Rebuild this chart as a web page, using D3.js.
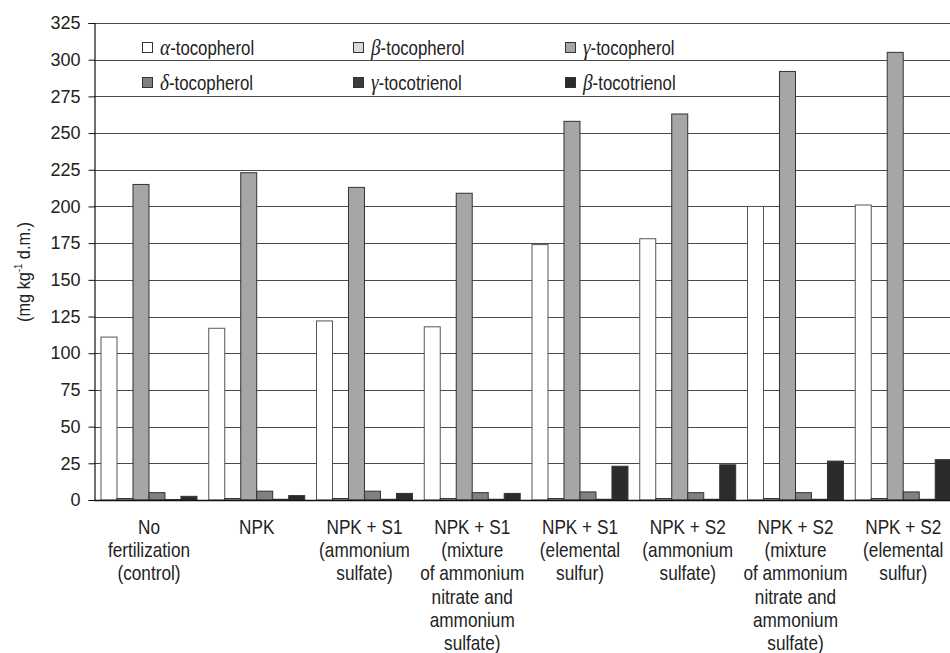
<!DOCTYPE html>
<html>
<head>
<meta charset="utf-8">
<script src="https://cdn.jsdelivr.net/npm/d3@7/dist/d3.min.js"></script>
<style>
  body { margin: 0; background: #fff; }
  svg { display: block; font-family: "Liberation Sans", Arial, sans-serif; }
</style>
</head>
<body>
<div id="chart"></div>
<script>
// treatments (x categories), each label split into lines
const treatments = [
  ["No", "fertilization", "(control)"],
  ["NPK"],
  ["NPK + S1", "(ammonium", "sulfate)"],
  ["NPK + S1", "(mixture", "of ammonium", "nitrate and", "ammonium", "sulfate)"],
  ["NPK + S1", "(elemental", "sulfur)"],
  ["NPK + S2", "(ammonium", "sulfate)"],
  ["NPK + S2", "(mixture", "of ammonium", "nitrate and", "ammonium", "sulfate)"],
  ["NPK + S2", "(elemental", "sulfur)"]
];

const seriesNames = ["α-tocopherol", "β-tocopherol", "γ-tocopherol", "δ-tocopherol", "γ-tocotrienol", "β-tocotrienol"];
const seriesColors = ["#ffffff", "#d9d9d9", "#a6a6a6", "#808080", "#3c3c3c", "#2b2b2b"];

const alphaToc = [111, 117, 122, 118, 174, 178, 200, 201];
const betaToc = [1, 1, 1, 1, 1, 1, 1, 1];
const gammaToc = [215, 223, 213, 209, 258, 263, 292, 305];
const deltaToc = [5, 6, 6, 5, 5.5, 5, 5, 5.5];
const gammaT3 = [0.3, 0.5, 0.5, 0.5, 0.5, 0.5, 0.5, 0.5];
const betaT3 = [2.5, 3, 4.5, 4.5, 23, 24, 26.5, 27.5];

const yTicks = d3.range(0, 326, 25);

const seriesValues = [alphaToc, betaToc, gammaToc, deltaToc, gammaT3, betaT3];

const width = 950, height = 653;
const mLeft = 94, mTop = 23, mBottom = 500, mRight = 956;
// the original text is a narrow face; squeeze Liberation Sans sideways
const squeeze = 0.86;

const svg = d3.select("#chart").append("svg")
  .attr("width", width)
  .attr("height", height);

const x0 = d3.scaleBand()
  .domain(d3.range(treatments.length))
  .range([mLeft, mRight]);

const x1 = d3.scaleBand()
  .domain(d3.range(seriesNames.length))
  .range([7, x0.bandwidth() - 4.8]);

const y = d3.scaleLinear()
  .domain([0, 325])
  .range([mBottom, mTop]);

// gridlines
svg.append("g")
  .selectAll("line")
  .data(yTicks.filter(d => d > 0))
  .join("line")
  .attr("x1", mLeft)
  .attr("x2", width)
  .attr("y1", d => Math.round(y(d)) + 0.5)
  .attr("y2", d => Math.round(y(d)) + 0.5)
  .attr("stroke", "#4a4a4a")
  .attr("stroke-width", 1.1);

// bars
const groups = svg.append("g")
  .selectAll("g")
  .data(treatments)
  .join("g")
  .attr("transform", (d, i) => `translate(${x0(i)},0)`);

groups.selectAll("rect")
  .data((d, i) => seriesValues.map((vals, s) => ({ s, v: vals[i] })))
  .join("rect")
  .attr("x", d => x1(d.s))
  .attr("width", x1.bandwidth())
  .attr("y", d => y(d.v))
  .attr("height", d => y(0) - y(d.v))
  .attr("fill", d => seriesColors[d.s])
  .attr("stroke", d => d.s === 0 ? "#555" : "#333")
  .attr("stroke-width", 1);

// y axis
const yAxis = d3.axisLeft(y)
  .tickValues(yTicks)
  .tickSize(6)
  .tickPadding(8);

const ya = svg.append("g")
  .attr("transform", `translate(${mLeft + 0.5},0)`)
  .call(yAxis);
ya.select(".domain").attr("stroke", "#111").attr("stroke-width", 1.2);
ya.selectAll(".tick line").attr("stroke", "#111");
ya.selectAll(".tick text")
  .attr("font-size", 18)
  .attr("font-family", "Liberation Sans, Arial, sans-serif")
  .attr("fill", "#222");

// x baseline
svg.append("line")
  .attr("x1", mLeft)
  .attr("x2", width)
  .attr("y1", y(0) + 0.5)
  .attr("y2", y(0) + 0.5)
  .attr("stroke", "#111")
  .attr("stroke-width", 1.4);

// x labels
const xl = svg.append("g")
  .selectAll("text")
  .data(treatments)
  .join("text")
  .attr("text-anchor", "middle")
  .attr("font-size", 20)
  .attr("fill", "#222")
  .attr("transform", (d, i) => `translate(${x0(i) + x1(0) + x1.bandwidth() * 3},0) scale(${squeeze},1)`);

xl.selectAll("tspan")
  .data(d => d)
  .join("tspan")
  .attr("x", 0)
  .attr("y", (d, j) => 534 + j * 23.2)
  .text(d => d);

// y label
const yl = svg.append("text")
  .attr("transform", `translate(30,272) rotate(-90) scale(${squeeze},1)`)
  .attr("text-anchor", "middle")
  .attr("font-size", 19)
  .attr("fill", "#222");
yl.append("tspan").text("(mg kg");
yl.append("tspan").attr("font-size", 11).attr("dy", -8).text("-1");
yl.append("tspan").attr("dy", 8).text(" d.m.)");

// legend
const legCols = [142, 353, 565];
const legRows = [48, 83];
const leg = svg.append("g")
  .selectAll("g")
  .data(seriesNames)
  .join("g")
  .attr("transform", (d, i) => `translate(${legCols[i % 3]},${legRows[Math.floor(i / 3)]})`);

leg.append("rect")
  .attr("x", 0.5)
  .attr("y", -5.5)
  .attr("width", 10)
  .attr("height", 10)
  .attr("fill", (d, i) => seriesColors[i])
  .attr("stroke", "#333");

const lt = leg.append("text")
  .attr("transform", "translate(18,7) scale(0.84,1)")
  .attr("font-size", 20)
  .attr("fill", "#222");
lt.append("tspan")
  .attr("font-family", "Liberation Serif, DejaVu Serif, serif")
  .attr("font-style", "italic")
  .attr("font-size", 23)
  .text(d => d.slice(0, 1));
lt.append("tspan").text(d => d.slice(1));
</script>
</body>
</html>
